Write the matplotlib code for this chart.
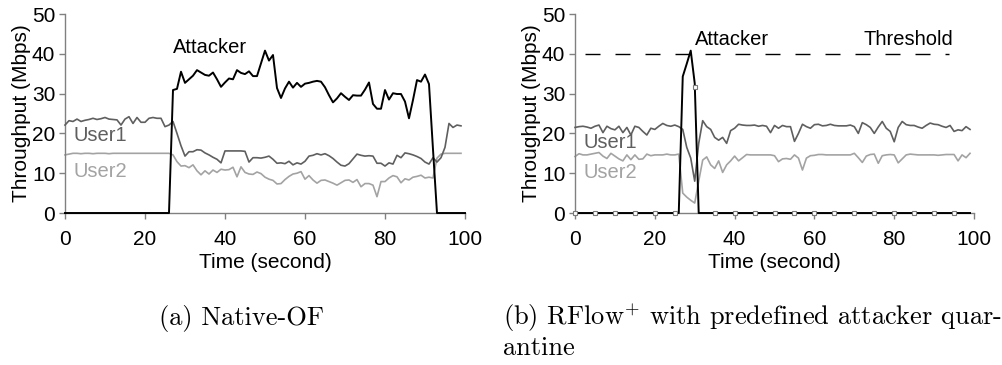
import numpy as np
import matplotlib
matplotlib.use("Agg")
import matplotlib.pyplot as plt

plt.rcParams["font.family"] = ["Liberation Sans", "DejaVu Sans"]
plt.rcParams["mathtext.fontset"] = "cm"

# time axis in seconds (one sample per second)
time_s = list(range(100))

# (a) Native-OF
native_attacker = (
    [0.0] * 27 +
    [30.9, 31.2, 35.5, 32.7, 33.6, 34.5, 35.9, 35.3, 34.7, 34.5,
     35.3, 33.6, 31.7, 32.8, 33.8, 33.6, 35.9, 35.2, 34.9, 35.6,
     34.4, 34.4, 37.6, 40.8, 38.3, 39.7, 31.4, 28.9, 31.3, 33.0,
     31.5, 32.7, 31.7, 32.5, 32.7, 33.0, 33.2, 33.0, 31.6, 29.6,
     27.8, 28.8, 30.1, 29.2, 28.4, 29.6, 29.5, 29.5, 31.0, 32.8,
     27.4, 26.2, 26.2, 30.9, 28.5, 30.1, 29.9, 29.9, 28.0, 23.8,
     28.4, 33.4, 33.0, 34.8, 32.4, 16.0] +
    [0.0] * 7
)
native_user1 = [
    22.1, 23.2, 23.0, 23.6, 23.0, 23.3, 23.5, 23.8, 23.5, 23.7,
    24.0, 23.6, 23.5, 23.4, 22.1, 23.6, 24.2, 22.5, 24.0, 22.8,
    22.8, 23.8, 24.0, 23.8, 23.8, 21.7, 22.1, 23.0, 20.0, 16.9,
    14.3, 15.4, 15.4, 15.9, 15.8, 15.1, 14.6, 14.0, 13.5, 12.6,
    15.6, 15.6, 15.6, 15.6, 15.6, 15.5, 12.8, 13.9, 13.9, 13.8,
    14.0, 14.3, 13.5, 12.5, 12.6, 12.4, 13.0, 12.1, 12.6, 12.3,
    13.0, 14.3, 14.5, 14.9, 14.6, 14.9, 14.4, 13.7, 12.8, 12.0,
    11.8, 12.4, 13.6, 14.8, 14.5, 14.3, 14.4, 14.3, 12.5, 12.5,
    11.8, 12.6, 12.3, 14.5, 13.9, 15.1, 14.9, 14.6, 14.2, 13.7,
    12.8, 12.3, 13.9, 12.8, 13.9, 16.5, 22.5, 21.5, 22.1, 21.9,
]
native_user2 = [
    14.6, 14.8, 15.0, 15.0, 14.9, 15.0, 15.0, 14.9, 15.0, 15.0,
    15.0, 14.9, 15.0, 15.0, 15.0, 15.0, 15.0, 15.0, 15.0, 15.0,
    15.0, 15.0, 15.0, 15.0, 15.0, 15.0, 15.0, 14.6, 12.9, 11.8,
    11.9, 11.4, 12.1, 10.6, 9.6, 10.6, 9.8, 10.8, 10.2, 11.0,
    10.8, 10.9, 11.5, 9.1, 11.6, 10.2, 9.8, 9.7, 10.3, 9.9,
    9.0, 8.5, 8.2, 7.3, 7.4, 8.4, 9.2, 9.8, 10.0, 10.4,
    8.5, 9.4, 8.3, 7.5, 8.2, 8.3, 7.9, 7.5, 7.0, 7.6,
    8.2, 8.3, 7.7, 8.4, 6.6, 7.4, 7.4, 7.0, 4.1, 7.9,
    7.9, 8.8, 9.4, 9.1, 7.6, 8.6, 8.3, 9.0, 9.2, 9.5,
    8.8, 9.0, 8.8, 13.8, 14.8, 15.0, 15.0, 15.0, 15.0, 15.0,
]

# (b) RFlow+ with predefined attacker quarantine
rflow_attacker = [0.0] * 27 + [34.3, 37.5, 40.8, 32.6] + [0.0] * 69
rflow_user1 = [
    21.5, 21.7, 21.8, 21.6, 21.3, 21.8, 22.1, 20.2, 21.8, 21.2,
    20.9, 21.8, 20.2, 21.5, 19.6, 21.8, 21.5, 20.5, 19.6, 21.3,
    21.0, 21.8, 22.5, 22.0, 21.8, 22.1, 21.7, 21.0, 16.5, 13.8,
    8.0, 17.5, 23.2, 21.7, 21.0, 19.0, 18.3, 19.0, 17.5, 20.7,
    21.3, 22.3, 22.1, 22.0, 22.0, 22.1, 21.8, 22.0, 21.8, 20.2,
    22.0, 21.3, 22.0, 21.7, 21.7, 18.0, 20.0, 22.3, 21.7, 21.3,
    22.2, 22.3, 21.9, 22.0, 22.3, 22.0, 21.9, 21.9, 21.9, 22.1,
    21.7, 20.0, 22.7, 22.2, 21.5, 20.0, 21.6, 23.0, 21.3, 20.5,
    17.9, 21.5, 23.0, 22.2, 22.0, 22.0, 21.6, 21.3, 22.0, 22.6,
    22.3, 22.2, 21.8, 21.5, 22.0, 20.5, 20.9, 20.7, 21.7, 21.0,
]
rflow_user2 = [
    14.2, 14.9, 14.6, 14.6, 14.8, 15.0, 15.2, 14.3, 13.7, 15.0,
    14.3, 13.6, 13.1, 14.6, 13.4, 14.6, 13.5, 13.6, 14.8, 14.4,
    14.6, 14.6, 14.6, 14.8, 14.6, 14.6, 14.8, 5.0, 4.0, 3.2,
    2.5, 8.0, 13.3, 14.1, 12.1, 11.2, 13.1, 10.2, 12.1, 13.1,
    14.3, 13.1, 13.9, 14.7, 14.6, 14.6, 14.6, 14.6, 14.6, 14.6,
    14.4, 12.9, 13.6, 13.7, 13.5, 14.6, 13.8, 10.8, 13.8, 14.4,
    14.5, 14.7, 14.7, 14.6, 14.6, 14.6, 14.6, 14.6, 14.6, 14.6,
    15.0, 13.9, 12.7, 14.3, 14.7, 14.8, 12.5, 14.4, 14.6, 14.7,
    14.6, 12.6, 13.6, 14.6, 14.8, 14.7, 14.6, 14.6, 14.6, 14.6,
    14.6, 14.5, 14.6, 14.7, 14.7, 14.7, 13.1, 14.6, 13.9, 15.0,
]
# attacker rate sampled every 5 s by the controller
sample_time = list(range(0, 100, 5))
sample_rate = [0.0] * 6 + [31.7] + [0.0] * 13
threshold = 40

x_ticks = [0, 20, 40, 60, 80, 100]
y_ticks = [0, 10, 20, 30, 40, 50]

C_ATT = "black"
C_U1 = "#5f5f5f"
C_U2 = "#a3a3a3"
C_AX = "#808080"
FS_TICK = 15
FS_NOTE = 14.5

fig = plt.figure(figsize=(10.03, 3.65), dpi=100)
ax_a = fig.add_axes([0.0648, 0.4164, 0.3988, 0.5452])
ax_b = fig.add_axes([0.5733, 0.4164, 0.3978, 0.5452])


def style(ax):
    ax.set_xlim(0, 100)
    ax.set_ylim(0, 50)
    ax.set_xticks(x_ticks)
    ax.set_yticks(y_ticks)
    for s in ("top", "right"):
        ax.spines[s].set_visible(False)
    for s in ("left", "bottom"):
        ax.spines[s].set_color(C_AX)
        ax.spines[s].set_linewidth(1.0)
    ax.tick_params(axis="both", direction="out", length=4, width=1.0,
                   color=C_AX, labelsize=FS_TICK)
    ax.tick_params(axis="x", pad=8)
    ax.tick_params(axis="y", pad=3)
    ax.set_xlabel("Time (second)", fontsize=FS_TICK, labelpad=3)
    ax.set_ylabel("Throughput (Mbps)", fontsize=FS_TICK, labelpad=1)


# panel (a)
ax_a.plot(time_s, native_user2, color=C_U2, lw=1.2, clip_on=False, zorder=2)
ax_a.plot(time_s, native_user1, color=C_U1, lw=1.2, clip_on=False, zorder=3)
ax_a.plot(time_s + [100], native_attacker + [0.0], color=C_ATT, lw=1.4,
          clip_on=False, zorder=4)
ax_a.text(26.9, 41.5, "Attacker", fontsize=FS_NOTE, va="center", ha="left")
ax_a.text(2.25, 19.6, "User1", fontsize=FS_NOTE, va="center", ha="left", color=C_U1)
ax_a.text(2.25, 10.4, "User2", fontsize=FS_NOTE, va="center", ha="left", color=C_U2)
style(ax_a)

# panel (b)
ax_b.plot([2.5, 93.8], [threshold, threshold], color="black", lw=1.0,
          dashes=(10.8, 10.8))
ax_b.plot(time_s, rflow_user2, color=C_U2, lw=1.2, clip_on=False, zorder=2)
ax_b.plot(time_s, rflow_user1, color=C_U1, lw=1.2, clip_on=False, zorder=3)
ax_b.plot(time_s, rflow_attacker, color=C_ATT, lw=1.4, clip_on=False, zorder=4)
ax_b.plot(sample_time, sample_rate, ls="none", marker="s", ms=3.2,
          mfc="white", mec="#7a7a7a", mew=0.8, clip_on=False, zorder=5)
ax_b.text(30.1, 43.7, "Attacker", fontsize=FS_NOTE, va="center", ha="left")
ax_b.text(72.4, 43.7, "Threshold", fontsize=FS_NOTE, va="center", ha="left")
ax_b.text(2.25, 17.7, "User1", fontsize=FS_NOTE, va="center", ha="left", color=C_U1)
ax_b.text(2.25, 10.1, "User2", fontsize=FS_NOTE, va="center", ha="left", color=C_U2)
style(ax_b)

# sub-figure captions
cap = dict(fontsize=19, family="cmr10", va="center", ha="left")
fig.text(159 / 1003, 1 - 318 / 365, "(a) Native-OF", **cap)
fig.text(503 / 1003, 1 - 318 / 365,
         "(b) RFlow$^{+}$ with predefined attacker quar-", **cap)
fig.text(503 / 1003, 1 - 348 / 365, "antine", **cap)

fig.savefig("out.png", dpi=100)
